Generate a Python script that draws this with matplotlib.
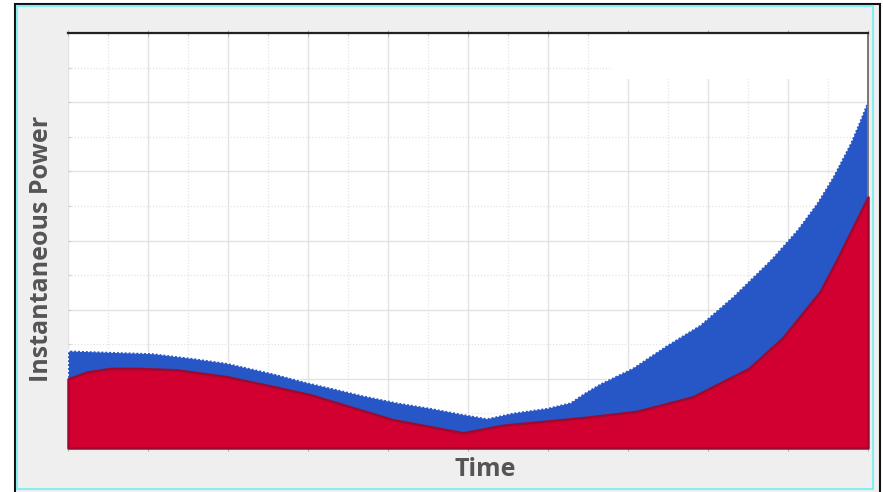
import matplotlib
matplotlib.use("Agg")
import matplotlib.pyplot as plt
from matplotlib.patches import Rectangle
from matplotlib.ticker import MultipleLocator, NullFormatter

# Base (lower) power series and total (stacked) power series
time_base = [0.00, 0.24, 0.53, 0.90, 1.36, 1.99, 2.56, 3.03, 4.06, 4.94,
             5.44, 5.99, 6.44, 7.11, 7.81, 8.51, 8.93, 9.40, 9.61, 10.00]
power_base = [1.00, 1.10, 1.15, 1.15, 1.13, 1.03, 0.89, 0.77, 0.41, 0.22,
              0.33, 0.39, 0.44, 0.53, 0.74, 1.15, 1.59, 2.26, 2.72, 3.63]

time_total = [0.00, 0.53, 1.06, 1.56, 1.99, 2.56, 2.99, 3.40, 3.69, 4.11,
              4.53, 4.94, 5.24, 5.56, 5.99, 6.28, 6.46, 6.65, 7.06, 7.49,
              7.90, 8.31, 8.78, 9.11, 9.36, 9.56, 9.78, 9.90, 10.00]
power_total = [1.41, 1.39, 1.37, 1.30, 1.23, 1.08, 0.95, 0.84, 0.76, 0.66,
               0.58, 0.49, 0.43, 0.51, 0.58, 0.66, 0.80, 0.93, 1.16, 1.49,
               1.78, 2.19, 2.72, 3.15, 3.54, 3.92, 4.41, 4.74, 5.03]

x_label = "Time"
y_label = "Instantaneous Power"

W, H = 883, 492
fig = plt.figure(figsize=(W / 100, H / 100), dpi=100, facecolor="white")


def fx(px):
    return px / W


def fy(py):
    return 1 - py / H


# Outer panel with dark frame and light cyan inner border
fig.add_artist(Rectangle((fx(15), fy(500)), fx(880) - fx(15), fy(3.5) - fy(500),
                         transform=fig.transFigure, facecolor="#efefef",
                         edgecolor="#111111", linewidth=1.5, zorder=0))
fig.add_artist(Rectangle((fx(17), fy(489)), fx(873) - fx(17), fy(5.5) - fy(489),
                         transform=fig.transFigure, facecolor="none",
                         edgecolor="#86eef0", linewidth=1.5, zorder=0.5))

ax = fig.add_axes([fx(68), fy(448), fx(868) - fx(68), fy(33) - fy(448)])
ax.set_facecolor("white")
ax.set_xlim(0, 10)
ax.set_ylim(0, 6)

ax.xaxis.set_major_locator(MultipleLocator(1))
ax.xaxis.set_minor_locator(MultipleLocator(0.5))
ax.yaxis.set_major_locator(MultipleLocator(1))
ax.yaxis.set_minor_locator(MultipleLocator(0.5))
for axis in (ax.xaxis, ax.yaxis):
    axis.set_major_formatter(NullFormatter())
    axis.set_minor_formatter(NullFormatter())

ax.set_axisbelow(True)
ax.grid(which="major", color="#e2e2e2", linewidth=1.0, linestyle="-")
ax.grid(which="minor", color="#e4e4e4", linewidth=0.9, linestyle=(0, (1, 1.5)))

ax.tick_params(which="both", left=True, top=True, bottom=True, right=False,
               direction="in", length=2.5, color="#d0d0d0", width=0.8)
ax.tick_params(axis="x", which="major", bottom=True, direction="inout",
               length=5, color="#b0b0b0")
ax.tick_params(axis="x", which="minor", bottom=False)

for side in ("left", "bottom"):
    ax.spines[side].set_visible(False)
ax.spines["top"].set_color("#222222")
ax.spines["top"].set_linewidth(1.6)
ax.spines["right"].set_color("#777777")
ax.spines["right"].set_linewidth(1.4)

# Blank box in the upper right corner of the plot area
ax.add_patch(Rectangle((6.79, 5.335), 3.21, 0.665, transform=ax.transData,
                       facecolor="white", edgecolor="none", zorder=1))

# Stacked areas: total (blue) behind, base (red) in front
ax.fill_between(time_total, 0, power_total, facecolor="#2756c6",
                edgecolor="white", linewidth=1.4, linestyle=(0, (1, 1)),
                zorder=2)
ax.fill_between(time_base, 0, power_base, facecolor="#d10031",
                edgecolor="#9e0a2f", linewidth=1.8, zorder=3, clip_on=False)

label_font = dict(family=["Open Sans", "DejaVu Sans"], weight="bold",
                  color="#555555", size=18)
fig.text(fx(42), fy(249), y_label, rotation=90, ha="center", va="center",
         **label_font)
fig.text(fx(485.5), fy(470), x_label, ha="center", va="center", **label_font)

fig.savefig("out.png", dpi=100, facecolor="white")
